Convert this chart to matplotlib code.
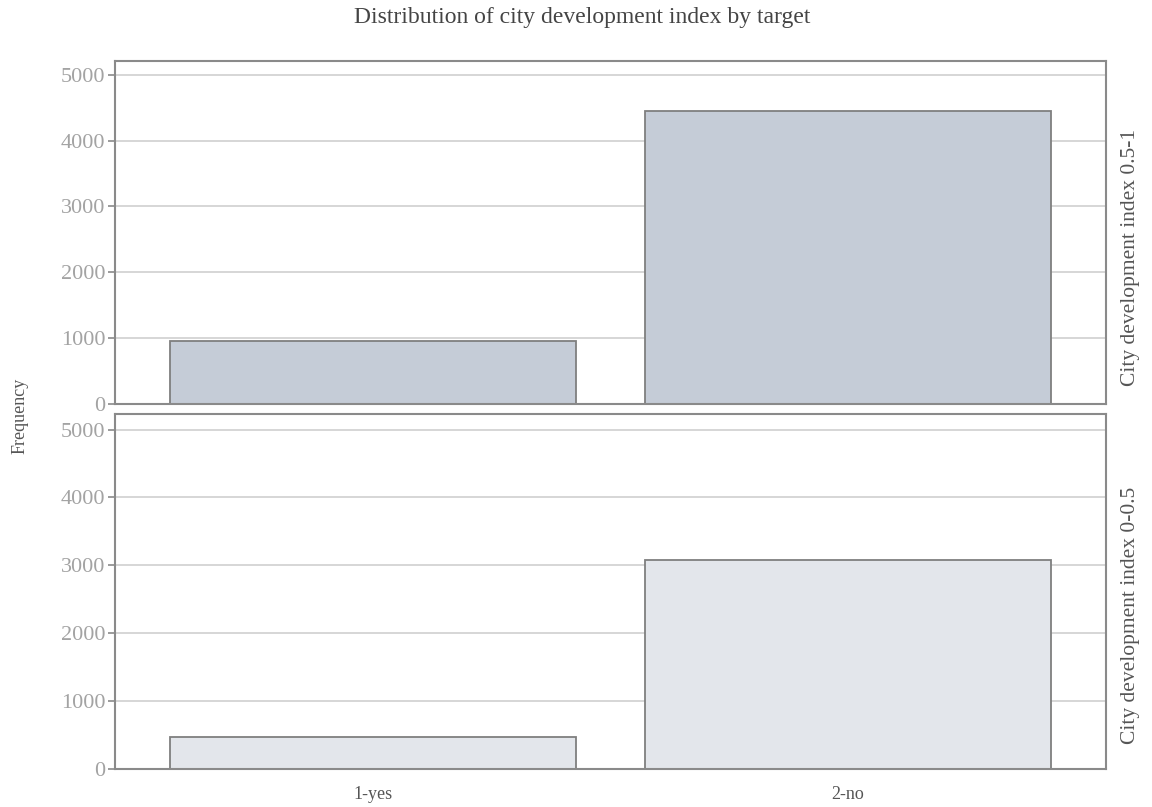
import matplotlib
matplotlib.use("Agg")
import matplotlib.pyplot as plt

categories = ["1-yes", "2-no"]
high_cdi = [964, 4455]      # City development index 0.5-1
low_cdi = [475, 3075]       # City development index 0-0.5
yticks = [0, 1000, 2000, 3000, 4000, 5000]
panel_labels = ["City development index 0.5-1", "City development index 0-0.5"]
title = "Distribution of city development index by target"

plt.rcParams['font.family'] = ['Liberation Serif', 'DejaVu Serif']

fig = plt.figure(figsize=(11.52, 8.07), dpi=100)
W, H = 1152, 807
ax1 = fig.add_axes([115 / W, 1 - 404 / H, (1106 - 115) / W, (404 - 61) / H])
ax2 = fig.add_axes([115 / W, 1 - 769 / H, (1106 - 115) / W, (769 - 413.5) / H])

spine_c = "#8a8a8a"
grid_c = "#cfcfcf"
tick_c = "#a3a3a3"

specs = [
    (ax1, high_cdi, "#c5ccd7", (0, 5210), panel_labels[0], 258),
    (ax2, low_cdi, "#e3e6eb", (0, 5236), panel_labels[1], 615),
]
x = list(range(len(categories)))
for ax, vals, fc, ylim, lab, ly in specs:
    ax.bar(x, vals, width=0.856, color=fc, edgecolor="#7f7f7f", linewidth=1.3, zorder=2)
    ax.set_xlim(-0.545, 1.545)
    ax.set_ylim(*ylim)
    ax.set_yticks(yticks)
    ax.set_yticklabels([str(t) for t in yticks])
    ax.yaxis.grid(True, color=grid_c, linewidth=1.2, zorder=0)
    ax.set_axisbelow(True)
    for s in ax.spines.values():
        s.set_color(spine_c)
        s.set_linewidth(1.5)
    ax.tick_params(axis="y", colors=spine_c, labelcolor=tick_c, labelsize=16,
                   length=5, width=1.2, pad=2)
    fig.text(1130 / W, 1 - ly / H, lab, rotation=90,
             ha="center", va="center", fontsize=15.5, color="#555555")

ax1.set_xticks([])
ax2.set_xticks(x)
ax2.set_xticklabels(categories)
ax2.tick_params(axis="x", length=0, labelsize=13, labelcolor="#555555", pad=12)

fig.text(582 / W, 1 - 18 / H, title, ha="center", va="center", fontsize=17, color="#444444")
fig.text(20 / W, 1 - 416 / H, "Frequency", rotation=90, ha="center", va="center",
         fontsize=13, color="#555555")

fig.savefig("out.png", dpi=100)
